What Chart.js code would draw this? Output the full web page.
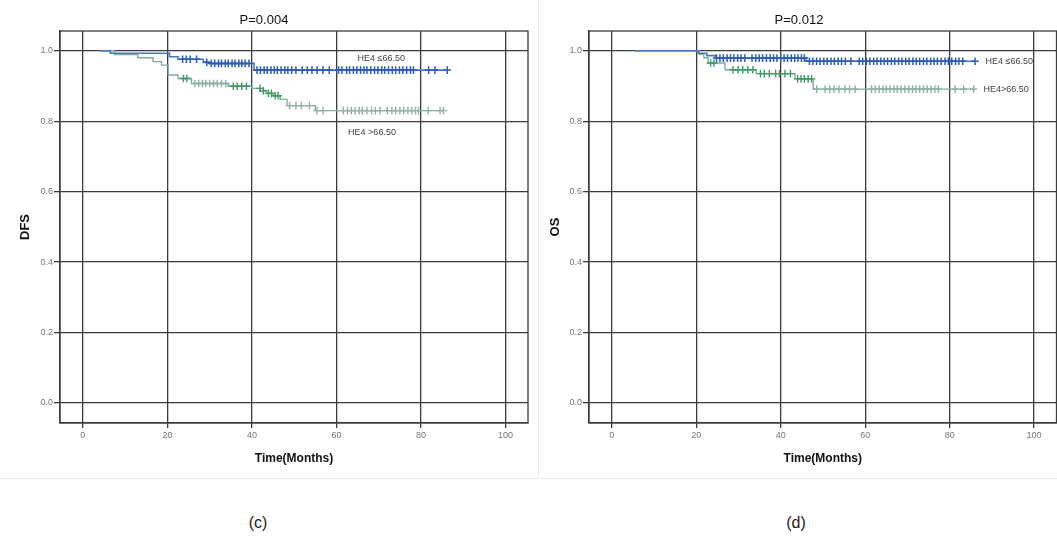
<!DOCTYPE html>
<html>
<head>
<meta charset="utf-8">
<script src="https://cdn.jsdelivr.net/npm/chart.js@4/dist/chart.umd.min.js"></script>
<style>
  body { margin: 0; background: #fff; overflow: hidden; width: 1057px; height: 541px; position: relative; font-family: "Liberation Sans", Arial, sans-serif; }
  .panel { position: absolute; top: 0; height: 478px; }
  #left  { left: 0; width: 538px; border-right: 1px solid #ececec; border-bottom: 1px solid #ececec; }
  #right { left: 540px; width: 522px; border-bottom: 1px solid #ececec; }
  .cap { position: absolute; top: 514px; font-size: 16px; color: #222; width: 60px; text-align: center; }
</style>
</head>
<body>
<div class="panel" id="left"><canvas id="dfs" width="538" height="478"></canvas></div>
<div class="panel" id="right"><canvas id="os" width="522" height="478"></canvas></div>
<div class="cap" style="left:228px">(c)</div>
<div class="cap" style="left:766px">(d)</div>
<script>
// axis ticks
const xTicks = [0, 20, 40, 60, 80, 100];
const yTicks = [0, 0.2, 0.4, 0.6, 0.8, 1.0];

// DFS, HE4 <= 66.50  (step times / survival after the step)
const dfsLowTime   = [4, 6.5, 20.5, 22.5, 28.5, 30, 40.5, 86];
const dfsLowSurv   = [1.0, 0.993, 0.983, 0.976, 0.967, 0.964, 0.945, 0.945];
const dfsLowCensor = [23.6, 24.5, 25.4, 26.9, 29.3, 30.4, 31.2, 32.1, 32.8, 33.7, 34.4, 35.3, 36.0, 36.9, 37.6, 38.4, 39.3,
                      41.2, 42.0, 42.9, 43.6, 44.5, 45.3, 46.0, 46.9, 47.8, 48.5, 49.4, 50.4,
                      51.9, 53.1, 54.2, 55.4, 56.8, 58.3,
                      60.5, 61.3, 62.4, 63.1, 64.0, 64.8, 65.7, 66.5, 67.2, 68.1, 69.0, 69.8, 70.7, 71.4, 72.3, 73.2, 74.0, 74.9, 75.7, 76.6, 77.5, 78.2,
                      81.8, 83.3, 86.2];

// DFS, HE4 > 66.50
const dfsHighTime   = [4, 7.5, 13, 16.6, 18.6, 20.2, 22.5, 25.7, 34.4, 40, 42, 43.5, 45, 46.7, 48.3, 55, 85.3];
const dfsHighSurv   = [1.0, 0.989, 0.98, 0.969, 0.959, 0.931, 0.921, 0.907, 0.899, 0.893, 0.886, 0.879, 0.872, 0.862, 0.844, 0.83, 0.83];
const dfsHighCensor = [23.8, 24.6, 26.5, 27.4, 28.3, 29.1, 30.0, 30.9, 31.8, 32.8, 33.8, 35.6, 36.5, 37.6, 38.7,
                       41.9, 42.7, 43.9, 44.6, 45.5, 46.2, 48.9, 50.4, 51.7, 53.6, 55.4, 56.8,
                       61.6, 62.6, 63.5, 64.4, 65.4, 66.1, 67.2, 68.3, 69.2, 70.3, 72.0, 73.1, 74.0, 75.0, 75.9, 76.9, 77.8, 78.7, 79.4,
                       81.7, 84.5, 85.3];

// OS, HE4 <= 66.50
const osLowTime   = [5.5, 20.5, 22.5, 24.5, 46, 86];
const osLowSurv   = [1.0, 0.993, 0.986, 0.979, 0.970, 0.970];
const osLowCensor = [24.8, 25.6, 26.4, 27.3, 28.1, 28.9, 29.8, 30.6, 31.5, 33.2, 34.1, 34.9, 35.7, 36.6, 37.5, 38.3, 39.1,
                     40.0, 40.8, 41.6, 42.5, 43.3, 44.1, 44.9, 45.6, 46.8, 47.6, 48.5, 49.3, 50.2, 51.0, 51.9, 52.7, 53.6,
                     54.4, 55.3, 56.6, 58.6, 59.4, 60.3, 61.1, 62.0, 62.8, 63.7, 64.5, 65.3, 66.2, 67.0, 67.9, 68.7, 69.6,
                     70.4, 71.3, 72.1, 72.9, 73.8, 74.6, 75.5, 76.3, 77.1, 78.0, 78.9, 79.7, 80.5, 81.4, 82.2, 83.1, 86.0];

// OS, HE4 > 66.50
const osHighTime   = [5.5, 20.7, 21.8, 22.8, 26.8, 34.2, 43.4, 47.7, 86];
const osHighSurv   = [1.0, 0.99, 0.98, 0.965, 0.946, 0.935, 0.92, 0.891, 0.891];
const osHighCensor = [23.4, 24.2, 28.7, 29.9, 31.0, 32.2, 33.4, 35.2, 36.1, 37.3, 38.8, 39.7, 41.0, 42.3,
                      44.0, 44.8, 45.6, 46.5, 47.3, 48.5, 50.5, 51.6, 52.6, 53.8, 55.2, 56.3, 57.6,
                      61.5, 62.4, 63.3, 64.2, 65.0, 65.9, 66.8, 67.6, 68.5, 69.4, 70.3, 71.2, 72.0, 72.9, 73.8,
                      74.7, 75.6, 76.5, 77.3, 81.3, 83.3, 85.7];

//colors
const blueLine   = '#4a78c6';
const blueMark   = '#2c5cb4';
const greenLine  = '#7fae9e';
const greenMark  = '#3c9b66';
const greyMark   = '#8fb2a6';
const gridColor  = '#3c3c3c';
const tickColor  = '#777';
const fontFamily = '"Liberation Sans", Arial, sans-serif';

function curve(times, surv) {
    return times.map((t, i) => ({ x: t, y: surv[i] }));
}
// survival level at a censor time = last step at or before it
function marks(censor, times, surv) {
    return censor.map(t => {
        let s = surv[0];
        for (let i = 0; i < times.length; i++) {
            if (times[i] <= t) s = surv[i];
        }
        return { x: t, y: s };
    });
}

// frame of the plot + curve labels
const curveLabels = {
    id: 'curveLabels',
    afterDatasetsDraw(chart, args, opts) {
        const {ctx, chartArea: a, scales: {x, y}} = chart;
        ctx.save();
        ctx.strokeStyle = gridColor;
        ctx.lineWidth = 1.3;
        ctx.strokeRect(a.left, a.top, a.right - a.left, a.bottom - a.top);
        ctx.font = '9px ' + fontFamily;
        ctx.fillStyle = '#444';
        ctx.textBaseline = 'middle';
        (opts.items || []).forEach(it => {
            ctx.textAlign = it.align;
            ctx.fillText(it.text, x.getPixelForValue(it.x), y.getPixelForValue(it.y));
        });
        ctx.restore();
    }
};

function makeChart(id, opt) {
    const ctx = document.getElementById(id).getContext('2d');
    return new Chart(ctx, {
        type: 'scatter',
        plugins: [curveLabels],
        data: {
            datasets: [{
                data: marks(opt.lowCensor, opt.lowTime, opt.lowSurv),
                pointStyle: 'cross', pointRadius: 3.8, borderWidth: 1.5,
                borderColor: blueMark, backgroundColor: blueMark, order: 0
            }, {
                data: marks(opt.highCensor, opt.highTime, opt.highSurv),
                pointStyle: 'cross', pointRadius: 3.8, borderWidth: 1.4,
                borderColor: c => (c.raw && c.raw.x > opt.greyFrom && c.raw.x < opt.greyTo) || (c.raw && c.raw.x >= opt.greyAfter) ? greyMark : greenMark,
                backgroundColor: greenMark, order: 0
            }, {
                data: curve(opt.lowTime, opt.lowSurv),
                showLine: true, stepped: 'before', pointRadius: 0,
                borderColor: blueLine, borderWidth: 1.6, order: 1
            }, {
                data: curve(opt.highTime, opt.highSurv),
                showLine: true, stepped: 'before', pointRadius: 0,
                borderColor: greenLine, borderWidth: 1.4, order: 1
            }]
        },
        options: {
            responsive: false,
            animation: false,
            layout: { padding: { right: opt.padRight } },
            plugins: {
                legend: { display: false },
                tooltip: { enabled: false },
                title: {
                    display: true,
                    text: opt.title,
                    color: '#111',
                    font: { size: 13, family: fontFamily, weight: 'normal' },
                    padding: { top: 13, bottom: 2.4 }
                },
                curveLabels: { items: opt.labels }
            },
            scales: {
                x: {
                    type: 'linear',
                    min: -5.4, max: 105.3,
                    afterBuildTicks: s => { s.ticks = xTicks.map(v => ({ value: v })); },
                    afterFit: s => { s.height = 55; },
                    grid: { color: gridColor, lineWidth: 1.3, tickLength: 5 },
                    border: { color: gridColor, width: 1.3 },
                    ticks: { color: tickColor, font: { size: 9, family: fontFamily }, padding: 2, maxRotation: 0 },
                    title: {
                        display: true, text: 'Time(Months)', color: '#111',
                        font: { size: 12, weight: 'bold', family: fontFamily },
                        padding: { top: 0, bottom: 11.8 }
                    }
                },
                y: {
                    min: -0.057, max: 1.056,
                    afterBuildTicks: s => { s.ticks = yTicks.map(v => ({ value: v })); },
                    afterFit: s => { s.width = opt.yWidth; },
                    grid: { color: gridColor, lineWidth: 1.3, tickLength: 6 },
                    border: { color: gridColor, width: 1.3 },
                    ticks: { color: tickColor, font: { size: 9, family: fontFamily }, padding: 1,
                        callback: v => v.toFixed(1) },
                    title: {
                        display: true, text: opt.yTitle, color: '#111',
                        font: { size: 13, weight: 'bold', family: fontFamily },
                        padding: { top: opt.yTitlePad, bottom: 0 }
                    }
                }
            }
        }
    });
}

makeChart('dfs', {
    title: 'P=0.004', yTitle: 'DFS', yWidth: 60, yTitlePad: 17.2, padRight: 10,
    lowTime: dfsLowTime, lowSurv: dfsLowSurv, lowCensor: dfsLowCensor,
    highTime: dfsHighTime, highSurv: dfsHighSurv, highCensor: dfsHighCensor,
    greyFrom: 26, greyTo: 35, greyAfter: 48,
    labels: [
        { text: 'HE4 ≤66.50', x: 70.6, y: 0.977, align: 'center' },
        { text: 'HE4 >66.50', x: 68.4, y: 0.767, align: 'center' }
    ]
});

makeChart('os', {
    title: 'P=0.012', yTitle: 'OS', yWidth: 49, yTitlePad: 7.2, padRight: 4,
    lowTime: osLowTime, lowSurv: osLowSurv, lowCensor: osLowCensor,
    highTime: osHighTime, highSurv: osHighSurv, highCensor: osHighCensor,
    greyFrom: 200, greyTo: 200, greyAfter: 48,
    labels: [
        { text: 'HE4 ≤66.50', x: 88.5, y: 0.970, align: 'left' },
        { text: 'HE4>66.50', x: 88.0, y: 0.891, align: 'left' }
    ]
});
</script>
</body>
</html>
